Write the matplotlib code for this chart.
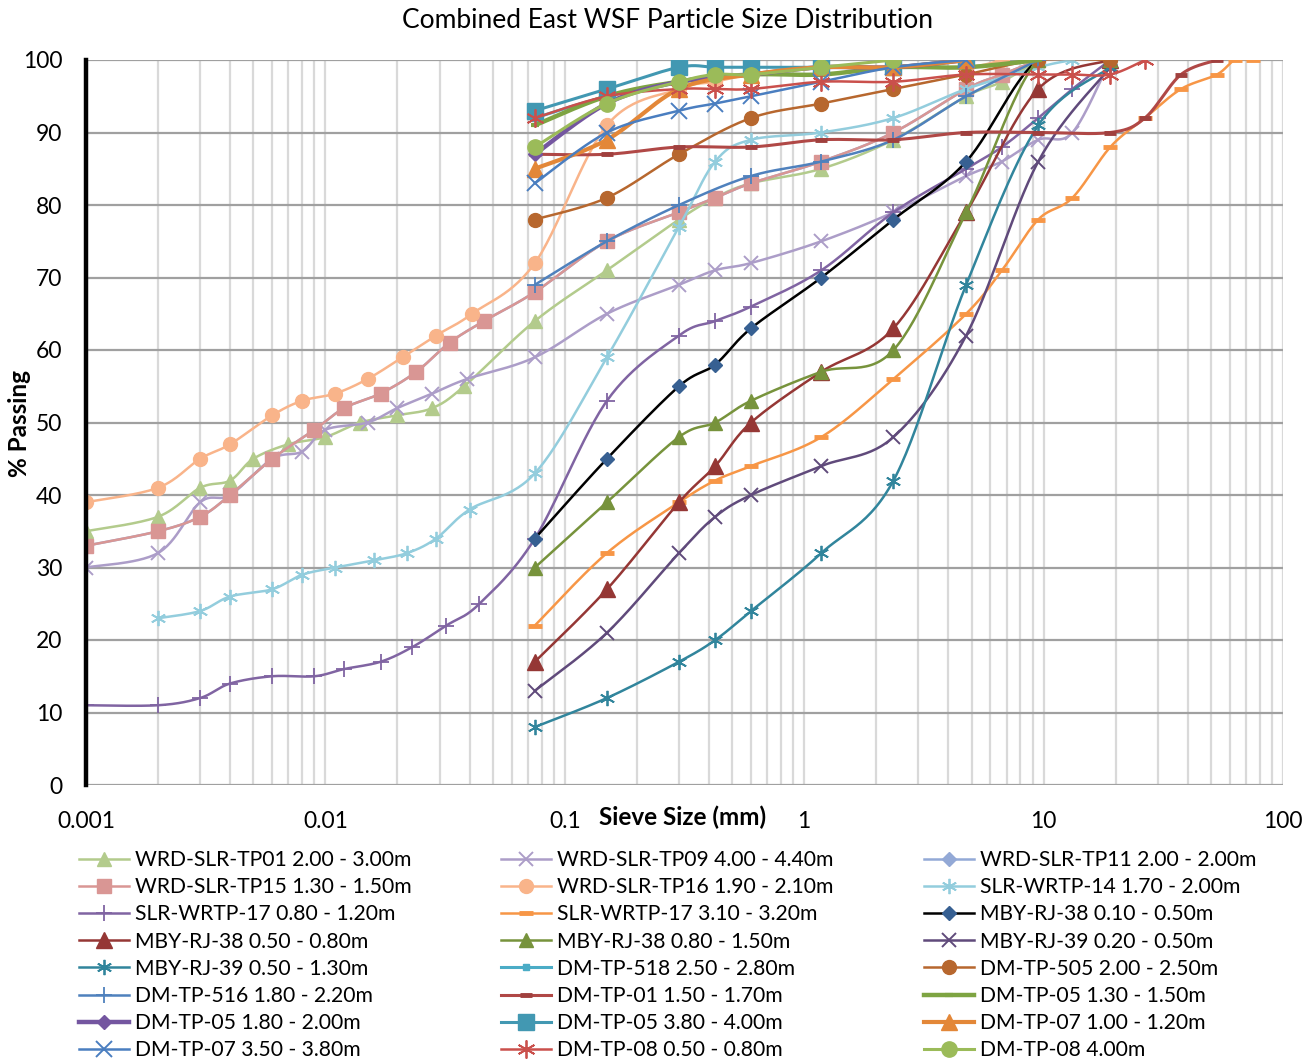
import numpy as np
import matplotlib
matplotlib.use('Agg')
import matplotlib.pyplot as plt
from matplotlib.lines import Line2D
from matplotlib.ticker import FixedLocator, NullFormatter, FixedFormatter

plt.rcParams['font.family'] = ['Lato', 'DejaVu Sans']

# ---------------- data ----------------
tp01_x = [0.001, 0.002, 0.003, 0.004, 0.005, 0.007, 0.01, 0.014, 0.02, 0.028, 0.038, 0.075, 0.15, 0.3, 0.425, 0.6, 1.18, 2.36, 4.75, 6.7, 9.5]
tp01_y = [35, 37, 41, 42, 45, 47, 48, 50, 51, 52, 55, 64, 71, 78, 81, 83, 85, 89, 95, 97, 100]

tp09_x = [0.001, 0.002, 0.003, 0.004, 0.006, 0.008, 0.01, 0.015, 0.02, 0.028, 0.039, 0.075, 0.15, 0.3, 0.425, 0.6, 1.18, 2.36, 4.75, 6.7, 9.5, 13.2, 19]
tp09_y = [30, 32, 39, 40, 45, 46, 49, 50, 52, 54, 56, 59, 65, 69, 71, 72, 75, 79, 84, 86, 89, 90, 100]

tp15_x = [0.001, 0.002, 0.003, 0.004, 0.006, 0.009, 0.012, 0.017, 0.024, 0.033, 0.046, 0.075, 0.15, 0.3, 0.425, 0.6, 1.18, 2.36, 4.75, 6.7, 9.5]
tp15_y = [33, 35, 37, 40, 45, 49, 52, 54, 57, 61, 64, 68, 75, 79, 81, 83, 86, 90, 96, 98, 100]

tp11_x = tp15_x
tp11_y = tp15_y

tp16_x = [0.001, 0.002, 0.003, 0.004, 0.006, 0.008, 0.011, 0.015, 0.021, 0.029, 0.041, 0.075, 0.15, 0.3, 0.425, 0.6, 1.18, 2.36, 4.75, 6.7]
tp16_y = [39, 41, 45, 47, 51, 53, 54, 56, 59, 62, 65, 72, 91, 96, 97, 98, 99, 99, 99, 100]

w14_x = [0.002, 0.003, 0.004, 0.006, 0.008, 0.011, 0.016, 0.022, 0.029, 0.04, 0.075, 0.15, 0.3, 0.425, 0.6, 1.18, 2.36, 4.75, 9.5, 13.2]
w14_y = [23, 24, 26, 27, 29, 30, 31, 32, 34, 38, 43, 59, 77, 86, 89, 90, 92, 96, 99, 100]

w17a_x = [0.001, 0.002, 0.003, 0.004, 0.006, 0.009, 0.012, 0.017, 0.023, 0.032, 0.044, 0.075, 0.15, 0.3, 0.425, 0.6, 1.18, 2.36, 4.75, 6.7, 9.5, 13.2, 19]
w17a_y = [11, 11, 12, 14, 15, 15, 16, 17, 19, 22, 25, 34, 53, 62, 64, 66, 71, 79, 85, 88, 92, 96, 100]

w17b_x = [0.075, 0.15, 0.3, 0.425, 0.6, 1.18, 2.36, 4.75, 6.7, 9.5, 13.2, 19, 26.5, 37.5, 53, 63, 75]
w17b_y = [22, 32, 39, 42, 44, 48, 56, 65, 71, 78, 81, 88, 92, 96, 98, 100, 100]

rj_x = [0.075, 0.15, 0.3, 0.425, 0.6, 1.18, 2.36, 4.75, 9.5, 19]
rj38a_y = [34, 45, 55, 58, 63, 70, 78, 86, 100, 100]
rj38b_y = [17, 27, 39, 44, 50, 57, 63, 79, 96, 100]
rj38c_y = [30, 39, 48, 50, 53, 57, 60, 79, 100, 100]
rj39a_y = [13, 21, 32, 37, 40, 44, 48, 62, 86, 99]
rj39b_y = [8, 12, 17, 20, 24, 32, 42, 69, 91, 99]

tp518_x = [0.075, 0.15, 0.3, 0.6, 1.18, 2.36, 4.75]
tp518_y = [92, 95, 97, 98, 99, 99, 100]

tp505_x = [0.075, 0.15, 0.3, 0.6, 1.18, 2.36, 4.75, 9.5, 19]
tp505_y = [78, 81, 87, 92, 94, 96, 98, 100, 100]

tp516_x = [0.075, 0.15, 0.3, 0.6, 1.18, 2.36, 4.75, 9.5]
tp516_y = [69, 75, 80, 84, 86, 89, 95, 100]

tp01d_x = [0.075, 0.15, 0.3, 0.6, 1.18, 2.36, 4.75, 9.5, 19, 26.5, 37.5, 53]
tp01d_y = [87, 87, 88, 88, 89, 89, 90, 90, 90, 92, 98, 100]

tp05a_x = [0.075, 0.15, 0.3, 0.6, 1.18, 2.36, 4.75, 9.5]
tp05a_y = [91, 95, 97, 98, 98, 99, 99, 100]

tp05b_x = [0.075, 0.15, 0.3, 0.6, 1.18, 2.36, 4.75]
tp05b_y = [87, 94, 97, 98, 99, 99, 100]

tp05c_x = [0.075, 0.15, 0.3, 0.425, 0.6, 1.18, 2.36, 4.75]
tp05c_y = [93, 96, 99, 99, 99, 99, 99, 100]

tp07a_x = [0.075, 0.15, 0.3, 0.6, 1.18, 2.36, 4.75]
tp07a_y = [85, 89, 96, 98, 99, 99, 100]

tp07b_x = [0.075, 0.15, 0.3, 0.425, 0.6, 1.18, 2.36, 4.75]
tp07b_y = [83, 90, 93, 94, 95, 97, 99, 100]

tp08a_x = [0.075, 0.15, 0.3, 0.425, 0.6, 1.18, 2.36, 4.75, 9.5, 13.2, 19, 26.5]
tp08a_y = [92, 95, 96, 96, 96, 97, 97, 98, 98, 98, 98, 100]

tp08b_x = [0.075, 0.15, 0.3, 0.425, 0.6, 1.18, 2.36]
tp08b_y = [88, 94, 97, 98, 98, 99, 100]

labels = [
    "WRD-SLR-TP01 2.00 - 3.00m", "WRD-SLR-TP09 4.00 - 4.40m", "WRD-SLR-TP11 2.00 - 2.00m",
    "WRD-SLR-TP15 1.30 - 1.50m", "WRD-SLR-TP16 1.90 - 2.10m", "SLR-WRTP-14 1.70 - 2.00m",
    "SLR-WRTP-17 0.80 - 1.20m", "SLR-WRTP-17 3.10 - 3.20m", "MBY-RJ-38 0.10 - 0.50m",
    "MBY-RJ-38 0.50 - 0.80m", "MBY-RJ-38 0.80 - 1.50m", "MBY-RJ-39 0.20 - 0.50m",
    "MBY-RJ-39 0.50 - 1.30m", "DM-TP-518 2.50 - 2.80m", "DM-TP-505 2.00 - 2.50m",
    "DM-TP-516 1.80 - 2.20m", "DM-TP-01 1.50 - 1.70m", "DM-TP-05 1.30 - 1.50m",
    "DM-TP-05 1.80 - 2.00m", "DM-TP-05 3.80 - 4.00m", "DM-TP-07 1.00 - 1.20m",
    "DM-TP-07 3.50 - 3.80m", "DM-TP-08 0.50 - 0.80m", "DM-TP-08 4.00m",
]
xs = [tp01_x, tp09_x, tp11_x, tp15_x, tp16_x, w14_x, w17a_x, w17b_x, rj_x, rj_x, rj_x, rj_x, rj_x,
      tp518_x, tp505_x, tp516_x, tp01d_x, tp05a_x, tp05b_x, tp05c_x, tp07a_x, tp07b_x, tp08a_x, tp08b_x]
ys = [tp01_y, tp09_y, tp11_y, tp15_y, tp16_y, w14_y, w17a_y, w17b_y, rj38a_y, rj38b_y, rj38c_y, rj39a_y, rj39b_y,
      tp518_y, tp505_y, tp516_y, tp01d_y, tp05a_y, tp05b_y, tp05c_y, tp07a_y, tp07b_y, tp08a_y, tp08b_y]

STAR = (6, 2, 0)
# (line colour, marker colour, line width, marker, marker size, marker edge width)
styles = [
    ('#B3CB8C', '#B3CB8C', 1.8, '^', 10, 1.0),
    ('#AC9DC8', '#AC9DC8', 1.8, 'x', 10, 1.4),
    ('#93A9D6', '#93A9D6', 1.8, 'D', 7, 1.0),
    ('#D99694', '#D99694', 1.8, 's', 10, 1.0),
    ('#F9B48A', '#F9B48A', 1.8, 'o', 10, 1.0),
    ('#93CDDD', '#93CDDD', 1.8, STAR, 11, 1.3),
    ('#8064A2', '#8064A2', 1.8, '+', 11, 1.3),
    ('#F79646', '#F79646', 1.8, '_', 10, 3.5),
    ('#000000', '#376092', 1.8, 'D', 7, 1.0),
    ('#953735', '#953735', 1.8, '^', 12, 1.0),
    ('#77933C', '#77933C', 1.8, '^', 10, 1.0),
    ('#604A7B', '#604A7B', 1.8, 'x', 10, 1.4),
    ('#31859C', '#31859C', 1.8, STAR, 11, 1.3),
    ('#4BACC6', '#4BACC6', 2.2, 's', 4, 1.0),
    ('#B7672E', '#B7672E', 1.8, 'o', 10, 1.0),
    ('#4F81BD', '#4F81BD', 1.8, '+', 11, 1.3),
    ('#B04846', '#A0403E', 2.2, '_', 8, 3.5),
    ('#7EA442', '#7EA442', 3.2, '_', 6, 3.0),
    ('#7456A0', '#7456A0', 3.2, 'D', 7, 1.0),
    ('#4298B2', '#4298B2', 2.2, 's', 11, 1.0),
    ('#E38738', '#E38738', 3.0, '^', 11, 1.0),
    ('#4A7EC0', '#4A7EC0', 1.8, 'x', 11, 1.4),
    ('#CA504C', '#CA504C', 1.8, STAR, 13, 1.3),
    ('#9BBB59', '#9BBB59', 2.2, 'o', 11, 1.0),
]


def smooth(x, y, n=30):
    lx = np.log10(np.asarray(x, float))
    yy = np.asarray(y, float)
    P = np.column_stack([lx, yy])
    if len(P) < 3:
        return x, y
    Pe = np.vstack([P[0], P, P[-1]])
    out = []
    t = np.linspace(0, 1, n)[:, None]
    for i in range(len(P) - 1):
        p0 = Pe[i + 1]
        p3 = Pe[i + 2]
        c1 = p0 + (Pe[i + 2] - Pe[i]) / 6.0
        c2 = p3 - (Pe[i + 3] - Pe[i + 1]) / 6.0
        seg = ((1 - t) ** 3) * p0 + 3 * ((1 - t) ** 2) * t * c1 + 3 * (1 - t) * t ** 2 * c2 + t ** 3 * p3
        out.append(seg if i == 0 else seg[1:])
    S = np.vstack(out)
    return 10 ** S[:, 0], S[:, 1]


W, H = 1316, 1059
fig = plt.figure(figsize=(W / 100, H / 100), dpi=100)
L, R, T, B = 86, 1283, 60, 785
ax = fig.add_axes([L / W, 1 - B / H, (R - L) / W, (B - T) / H])

ax.set_xscale('log')
ax.set_xlim(0.001, 100)
ax.set_ylim(0, 100)

# grid
minor = []
for d in [0.001, 0.01, 0.1, 1, 10]:
    for k in range(1, 10):
        minor.append(d * k)
minor.append(100)
for v in minor:
    ax.axvline(v, color='#D9D9D9', lw=1.6, zorder=0)
for v in range(0, 101, 10):
    ax.axhline(v, color='#A0A0A0', lw=1.6, zorder=0.5)

for i, (x, y) in enumerate(zip(xs, ys)):
    lc, mc, lw, mk, ms, mew = styles[i]
    sx, sy = smooth(x, y)
    z = 2 + i * 0.1
    ax.plot(sx, sy, color=lc, lw=lw, zorder=z, solid_capstyle='round')
    ax.plot(x, y, ls='none', marker=mk, ms=ms, mfc=mc, mec=mc, mew=mew, zorder=z + 0.05)

for s in ['top', 'right', 'bottom']:
    ax.spines[s].set_visible(False)
ax.spines['left'].set_linewidth(3.2)
ax.spines['left'].set_color('black')
ax.spines['left'].set_zorder(5)

ax.xaxis.set_major_locator(FixedLocator([0.001, 0.01, 0.1, 1, 10, 100]))
ax.xaxis.set_major_formatter(FixedFormatter(['0.001', '0.01', '0.1', '1', '10', '100']))
ax.xaxis.set_minor_locator(FixedLocator([]))
ax.xaxis.set_minor_formatter(NullFormatter())
ax.set_yticks(range(0, 101, 10))
ax.tick_params(axis='both', length=0, labelsize=16.5, colors='black')
ax.tick_params(axis='x', pad=19)
ax.tick_params(axis='y', pad=17)

fig.text(683 / W, 1 - 817 / H, 'Sieve Size (mm)', ha='center', va='center', fontsize=17.5, fontweight='bold')
fig.text(20 / W, 1 - 423 / H, '% Passing', ha='center', va='center', fontsize=17.5, fontweight='bold', rotation=90)
fig.text(668 / W, 1 - 21 / H, 'Combined East WSF Particle Size Distribution', ha='center', va='center', fontsize=19)

# legend: three columns, row-major order
handles = []
for i in range(len(labels)):
    lc, mc, lw, mk, ms, mew = styles[i]
    handles.append(Line2D([], [], color=lc, lw=lw, marker=mk, ms=ms, mfc=mc, mec=mc, mew=mew))

col_x = [79, 501, 924]
for c in range(3):
    idx = list(range(c, len(labels), 3))
    fig.legend([handles[j] for j in idx], [labels[j] for j in idx], loc='upper left',
               bbox_to_anchor=(col_x[c] / W, 1 - 850 / H), frameon=False, fontsize=15.2,
               handlelength=2.35, handletextpad=0.3, labelspacing=0.34, borderpad=0,
               borderaxespad=0, numpoints=1)

fig.savefig('out.png', dpi=100)
